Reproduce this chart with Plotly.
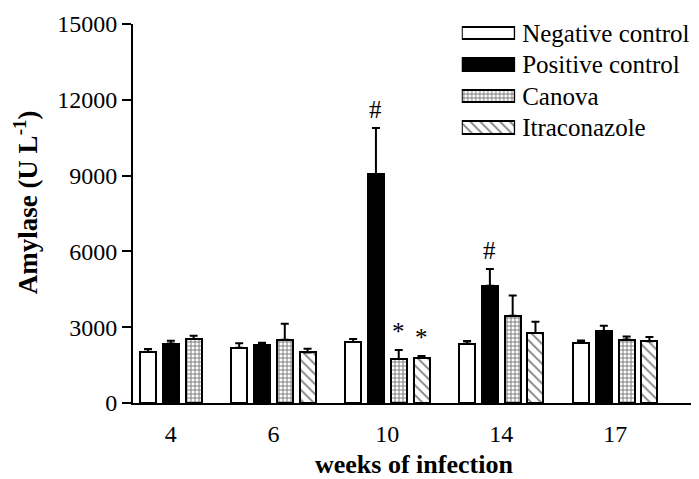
import plotly.graph_objects as go

weeks = ["4", "6", "10", "14", "17"]
series_names = ["Negative control", "Positive control", "Canova", "Itraconazole"]
neg = [2030, 2190, 2410, 2350, 2390]
neg_err = [110, 170, 120, 100, 80]
pos = [2350, 2310, 9060, 4640, 2840]
pos_err = [110, 70, 1820, 660, 220]
canova = [2530, 2500, 1740, 3450, 2510]
canova_err = [130, 640, 360, 800, 120]
itra = [None, 2000, 1780, 2770, 2440]
itra_err = [None, 150, 80, 450, 170]
y_ticks = [0, 3000, 6000, 9000, 12000, 15000]
y_ticklabels = ["0", "3000", "6000", "9000", "12000", "15000"]

values = [neg, pos, canova, itra]
errors = [neg_err, pos_err, canova_err, itra_err]

# significance marks: (series index, week index, symbol)
marks = [(1, 2, "#"), (2, 2, "*"), (3, 2, "*"), (1, 3, "#")]

# sequential slot positions (Prism style: bars one after another, one empty slot between groups)
xpos = [[None] * len(weeks) for _ in values]
centers = []
slot = 0
for wi in range(len(weeks)):
    used = []
    for si, vals in enumerate(values):
        if vals[wi] is not None:
            xpos[si][wi] = slot
            used.append(slot)
            slot += 1
    centers.append(sum(used) / len(used))
    slot += 1

fills = [
    dict(color="white"),
    dict(color="black"),
    dict(color="white", pattern=dict(shape="+", fgcolor="black", bgcolor="white", size=4, solidity=0.45)),
    dict(color="white", pattern=dict(shape="\\", fgcolor="black", bgcolor="white", size=7, solidity=0.25)),
]

FONT = "Liberation Serif, Times New Roman, serif"

fig = go.Figure()
for si, name in enumerate(series_names):
    xs, ys, es = [], [], []
    for wi in range(len(weeks)):
        if values[si][wi] is not None:
            xs.append(xpos[si][wi])
            ys.append(values[si][wi])
            es.append(errors[si][wi])
    m = dict(line=dict(color="black", width=2))
    m.update(fills[si])
    fig.add_trace(go.Bar(
        x=xs, y=ys, name=name, width=0.7, marker=m, showlegend=False,
        error_y=dict(type="data", array=es, arrayminus=[0] * len(es), symmetric=False,
                     color="black", thickness=2, width=4),
    ))

# legend swatches drawn as wide horizontal bars on an inset axis, names as tick labels
for si, name in enumerate(series_names):
    m = dict(line=dict(color="black", width=2))
    m.update(fills[si])
    fig.add_trace(go.Bar(
        x=[1], y=[si], orientation="h", width=0.4, marker=m, showlegend=False,
        xaxis="x2", yaxis="y2", hoverinfo="skip",
    ))

for si, wi, sym in marks:
    fig.add_annotation(x=xpos[si][wi], y=values[si][wi] + errors[si][wi], text=sym,
                       showarrow=False, yanchor="bottom", yshift=3,
                       font=dict(family=FONT, size=25, color="#000000"))

fig.add_annotation(xref="paper", yref="paper", x=-0.19, y=0.53, text="<b>Amylase (U L<sup>-1</sup>)</b>",
                   textangle=-90, showarrow=False, xanchor="center", yanchor="middle",
                   font=dict(family=FONT, size=27, color="black"))
fig.add_annotation(xref="paper", yref="paper", x=0.5, y=-0.162, text="<b>weeks of infection</b>",
                   showarrow=False, xanchor="center", yanchor="middle",
                   font=dict(family=FONT, size=26, color="black"))

fig.update_layout(
    width=691, height=471,
    margin=dict(l=125, r=4, t=16, b=76),
    plot_bgcolor="white", paper_bgcolor="white",
    font=dict(family=FONT, size=24, color="black"),
    bargap=0, showlegend=False,
    xaxis=dict(range=[-0.66, 24.0], tickvals=centers, ticktext=weeks, showline=True,
               linecolor="black", linewidth=2, ticks="", showgrid=False, zeroline=False,
               automargin=False, ticklabelstandoff=8, tickfont=dict(family=FONT, size=24)),
    yaxis=dict(range=[0, 15000], tickvals=y_ticks, ticktext=y_ticklabels, showline=True,
               linecolor="black", linewidth=2, ticks="outside", ticklen=9, tickwidth=2,
               tickcolor="black", showgrid=False, zeroline=False, automargin=False,
               tickfont=dict(family=FONT, size=24)),
    xaxis2=dict(domain=[0.585, 0.680], range=[0, 1], anchor="y2", showline=False, showgrid=False,
                zeroline=False, showticklabels=False, ticks="", fixedrange=True),
    yaxis2=dict(domain=[0.687, 1.0], range=[3.483, -0.286], anchor="x2", side="right",
                tickvals=list(range(len(series_names))), ticktext=series_names,
                showline=False, showgrid=False, zeroline=False, ticks="", ticklabelstandoff=6,
                tickfont=dict(family=FONT, size=25, color="black"), automargin=False),
)

fig.write_html("out.html")
